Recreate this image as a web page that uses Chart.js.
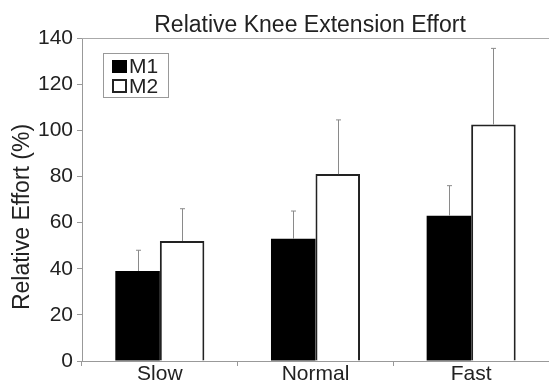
<!DOCTYPE html>
<html>
<head>
<meta charset="utf-8">
<script src="https://cdn.jsdelivr.net/npm/chart.js@4.4.1/dist/chart.umd.min.js"></script>
<style>
  html, body { margin: 0; padding: 0; background: #fff; }
  #wrap { width: 549px; height: 383px; position: relative; }
</style>
</head>
<body>
<div id="wrap"><canvas id="effortChart"></canvas></div>
<script>
const categories = ["Slow", "Normal", "Fast"];
const m1Values = [39, 53, 63];
const m2Values = [52, 81, 102.5];
const m1Errors = [9, 12, 13];
const m2Errors = [14, 23.5, 33];
const yTicks = [0, 20, 40, 60, 80, 100, 120, 140];
const seriesNames = ["M1", "M2"];

const FONT = "Arial, 'Liberation Sans', sans-serif";
const TEXT = "#222";
const AXIS = "#999";

// upward-only error bars, drawn from each bar top
const errorBars = {
  id: "errorBars",
  afterDatasetsDraw(chart) {
    const ctx = chart.ctx;
    const y = chart.scales.y;
    const errs = [m1Errors, m2Errors];
    ctx.save();
    ctx.strokeStyle = "#8a8a8a";
    ctx.lineWidth = 1;
    chart.data.datasets.forEach((ds, i) => {
      chart.getDatasetMeta(i).data.forEach((bar, j) => {
        const x = Math.round(bar.x) + 0.5;
        const top = y.getPixelForValue(ds.data[j] + errs[i][j]);
        ctx.beginPath();
        ctx.moveTo(x, bar.y);
        ctx.lineTo(x, top);
        ctx.moveTo(x - 2.5, top);
        ctx.lineTo(x + 2.5, top);
        ctx.stroke();
      });
    });
    ctx.restore();
  }
};

// title, y title, top frame line and the boxed legend inside the plot
const decorations = {
  id: "decorations",
  afterDraw(chart) {
    const ctx = chart.ctx;
    const area = chart.chartArea;
    ctx.save();
    ctx.strokeStyle = "#aaa";
    ctx.lineWidth = 1;
    ctx.beginPath();
    ctx.moveTo(area.left, Math.round(area.top) + 0.5);
    ctx.lineTo(area.right, Math.round(area.top) + 0.5);
    ctx.stroke();

    ctx.fillStyle = TEXT;
    ctx.font = "23px " + FONT;
    ctx.textAlign = "center";
    ctx.textBaseline = "alphabetic";
    ctx.fillText("Relative Knee Extension Effort", 310, 31.5);

    ctx.save();
    ctx.translate(29, 217);
    ctx.rotate(-Math.PI / 2);
    ctx.fillText("Relative Effort (%)", 0, 0);
    ctx.restore();

    // legend
    ctx.textBaseline = "middle";
    ctx.font = "21px " + FONT;
    ctx.strokeStyle = "#999";
    ctx.strokeRect(103.5, 53.5, 65, 44);
    ctx.fillStyle = "#000";
    ctx.fillRect(112, 60, 15, 13);
    ctx.strokeStyle = "#222";
    ctx.lineWidth = 2;
    ctx.strokeRect(113, 80, 13, 12);
    ctx.fillStyle = TEXT;
    ctx.textAlign = "left";
    ctx.fillText(seriesNames[0], 129, 67);
    ctx.fillText(seriesNames[1], 129, 87);
    ctx.restore();
  }
};

new Chart(document.getElementById("effortChart"), {
  type: "bar",
  data: {
    labels: categories,
    datasets: [
      {
        label: seriesNames[0],
        data: m1Values,
        backgroundColor: "#000",
        borderColor: "#000",
        borderWidth: 0
      },
      {
        label: seriesNames[1],
        data: m2Values,
        backgroundColor: "#fff",
        borderColor: "#222",
        borderWidth: 2
      }
    ]
  },
  options: {
    responsive: true,
    maintainAspectRatio: false,
    animation: false,
    datasets: {
      bar: { barPercentage: 1, categoryPercentage: 0.572 }
    },
    layout: { padding: { top: 38, right: 0, left: 0, bottom: 0 } },
    plugins: {
      legend: { display: false },
      title: { display: false },
      tooltip: { enabled: false }
    },
    scales: {
      x: {
        grid: { drawOnChartArea: false, tickLength: 5, color: AXIS, offset: true },
        border: { color: AXIS },
        ticks: { color: TEXT, font: { family: FONT, size: 21 }, padding: -4 },
        afterFit(scale) { scale.height = 22; }
      },
      y: {
        min: 0,
        max: 140,
        afterBuildTicks(scale) { scale.ticks = yTicks.map(v => ({ value: v })); },
        grid: { drawOnChartArea: false, tickLength: 5, color: AXIS },
        border: { color: AXIS },
        ticks: { color: TEXT, font: { family: FONT, size: 21 }, padding: 4 },
        afterFit(scale) { scale.width = 82; }
      }
    }
  },
  plugins: [errorBars, decorations]
});
</script>
</body>
</html>
